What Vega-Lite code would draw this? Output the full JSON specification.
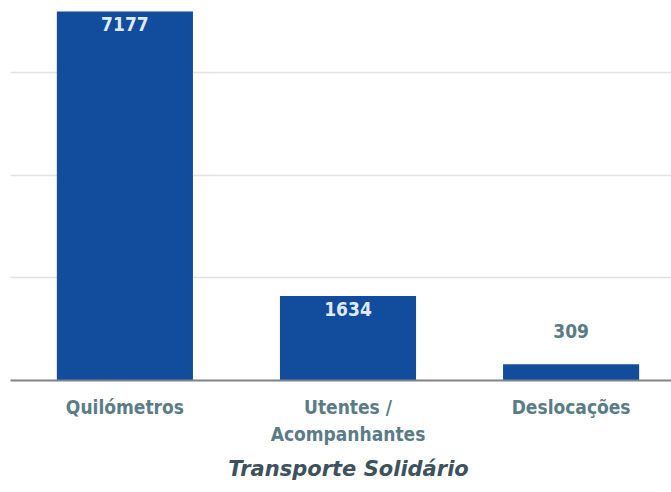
{
  "$schema": "https://vega.github.io/schema/vega-lite/v6.json",
  "autosize": "none",
  "padding": {"left": 10, "top": 0, "right": 0, "bottom": 112},
  "width": 676,
  "height": 380,
  "background": "white",
  "data": {"values": [
    {"categoria": "Quilómetros", "valor": 7177},
    {"categoria": "Utentes / Acompanhantes", "valor": 1634},
    {"categoria": "Deslocações", "valor": 309}
  ]},
  "config": {"view": {"stroke": null}, "font": "DejaVu Sans Condensed, Liberation Sans Narrow, sans-serif"},
  "encoding": {
    "x": {
      "field": "categoria", "type": "nominal", "sort": null,
      "scale": {"paddingInner": 0.39, "paddingOuter": 0.21},
      "axis": {
        "title": "Transporte Solidário",
        "titleFont": "DejaVu Sans, sans-serif",
        "titleFontSize": 21, "titleFontStyle": "italic", "titleFontWeight": "bold",
        "titleColor": "#3e525c", "titlePadding": 14,
        "labelAngle": 0, "labelFontSize": 19, "labelFontWeight": "bold", "labelColor": "#5a7c86",
        "labelPadding": 18, "labelLineHeight": 27,
        "labelExpr": "datum.value == 'Utentes / Acompanhantes' ? ['Utentes /', 'Acompanhantes'] : datum.value",
        "ticks": false, "domainColor": "#7d8387", "domainWidth": 2, "zindex": 1
      }
    },
    "y": {
      "field": "valor", "type": "quantitative",
      "scale": {"domain": [0, 7400], "nice": false},
      "axis": {"title": null, "labels": false, "ticks": false, "domain": false,
               "values": [2000, 4000, 6000], "gridColor": "#e2e2e2", "gridWidth": 1.5}
    }
  },
  "layer": [
    {"mark": {"type": "bar", "color": "#124c9c"}},
    {
      "transform": [{"filter": "datum.valor >= 1000"}],
      "mark": {"type": "text", "baseline": "top", "dy": 5, "fontSize": 19, "fontWeight": "bold", "color": "#dfe9f6"},
      "encoding": {"text": {"field": "valor", "type": "quantitative", "format": "d"}}
    },
    {
      "transform": [{"filter": "datum.valor < 1000"}],
      "mark": {"type": "text", "baseline": "bottom", "dy": -22, "fontSize": 19, "fontWeight": "bold", "color": "#5a7c86"},
      "encoding": {"text": {"field": "valor", "type": "quantitative", "format": "d"}}
    }
  ]
}
